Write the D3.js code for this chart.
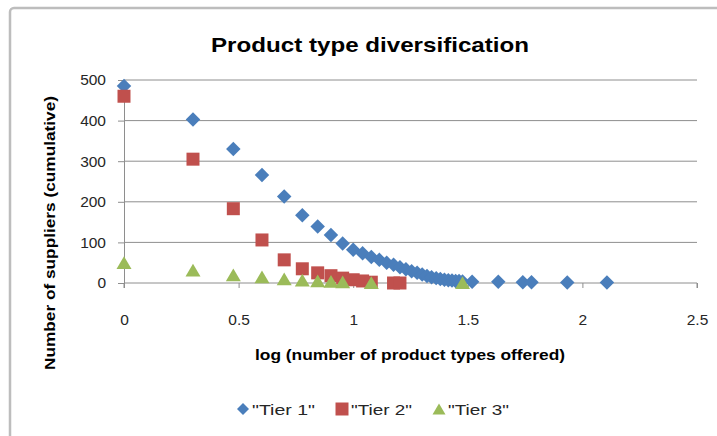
<!DOCTYPE html>
<html>
<head>
<meta charset="utf-8">
<script src="https://cdn.jsdelivr.net/npm/d3@7/dist/d3.min.js"></script>
<style>
  html, body { margin: 0; padding: 0; background: #fff; }
  svg { display: block; }
</style>
</head>
<body>
<svg id="chart" width="717" height="436"></svg>
<script>
// ---- data ----
const chartTitle = "Product type diversification";
const xTitle = "log (number of product types offered)";
const yTitle = "Number of suppliers (cumulative)";
const seriesNames = ['"Tier 1"', '"Tier 2"', '"Tier 3"'];
const xTicks = [0, 0.5, 1, 1.5, 2, 2.5];
const xTickLabels = ["0", "0.5", "1", "1.5", "2", "2.5"];
const yTicks = [0, 100, 200, 300, 400, 500];

const tier1X = [0, 0.301, 0.477, 0.602, 0.699, 0.778, 0.845, 0.903, 0.954, 1.0,
  1.041, 1.079, 1.114, 1.146, 1.176, 1.204, 1.230, 1.255, 1.279, 1.301,
  1.322, 1.342, 1.362, 1.380, 1.398, 1.415, 1.431, 1.447, 1.462, 1.477,
  1.519, 1.633, 1.740, 1.778, 1.934, 2.107];
const tier1Y = [485, 403, 330, 266, 213, 167, 139, 118, 97, 82,
  73, 64, 57, 50, 45, 39, 34, 29, 25, 21,
  17, 14, 12, 10, 8, 7, 6, 5, 5, 4,
  3, 3, 2, 2, 1, 1];

const tier2X = [0, 0.301, 0.477, 0.602, 0.699, 0.778, 0.845, 0.903, 0.954, 1.0, 1.041, 1.079, 1.176, 1.204];
const tier2Y = [460, 305, 183, 106, 57, 35, 25, 18, 12, 8, 5, 2, 0, 0];

const tier3X = [0, 0.301, 0.477, 0.602, 0.699, 0.778, 0.845, 0.903, 0.954, 1.079, 1.477];
const tier3Y = [50, 32, 20, 15, 10, 7, 5, 4, 3, 1, 1];

const colors = ["#4A7EBB", "#C0504D", "#9BBB59"];

// ---- layout ----
const svg = d3.select("#chart");
const plot = { left: 124, right: 697, top: 80, bottom: 283 };
const x = d3.scaleLinear().domain([0, 2.5]).range([plot.left, plot.right]);
const y = d3.scaleLinear().domain([0, 500]).range([plot.bottom, plot.top]);
const font = "'Liberation Sans', Arial, sans-serif";

// chart border (right/bottom cropped off in reference)
svg.append("rect").attr("x", 10).attr("y", 8).attr("width", 760).attr("height", 480)
  .attr("rx", 4).attr("fill", "#fff").attr("stroke", "#bdbdbd").attr("stroke-width", 2.5);

// title
svg.append("text").attr("x", 370).attr("y", 52).attr("text-anchor", "middle")
  .attr("font-family", font).attr("font-weight", "bold").attr("font-size", 21)
  .attr("fill", "#000").attr("textLength", 318).attr("lengthAdjust", "spacingAndGlyphs")
  .text(chartTitle);

// gridlines
svg.append("g").selectAll("line").data(yTicks.filter(d => d > 0)).join("line")
  .attr("x1", plot.left).attr("x2", plot.right)
  .attr("y1", d => y(d)).attr("y2", d => y(d))
  .attr("stroke", "#8e8e8e").attr("stroke-width", 1);

// y axis
const yAxis = svg.append("g").attr("transform", `translate(${plot.left},0)`)
  .call(d3.axisLeft(y).tickValues(yTicks).tickSize(6).tickPadding(12).tickFormat(d3.format("d")));
yAxis.select(".domain").attr("stroke", "#8e8e8e");
yAxis.selectAll(".tick line").attr("stroke", "#8e8e8e");
yAxis.selectAll("text").attr("font-family", font).attr("font-size", 15.5).attr("fill", "#262626");

// x axis
const xAxis = svg.append("g").attr("transform", `translate(0,${plot.bottom})`)
  .call(d3.axisBottom(x).tickValues(xTicks).tickSize(5).tickPadding(26)
    .tickFormat((d, i) => xTickLabels[i]));
xAxis.select(".domain").attr("stroke", "#8e8e8e").attr("d", `M${plot.left},5V0H${plot.right}V5`);
xAxis.selectAll(".tick line").attr("stroke", "#8e8e8e");
xAxis.selectAll("text").attr("font-family", font).attr("font-size", 15.5).attr("fill", "#262626");

// axis titles
svg.append("text").attr("x", 410).attr("y", 360).attr("text-anchor", "middle")
  .attr("font-family", font).attr("font-weight", "bold").attr("font-size", 14.5)
  .attr("fill", "#000").attr("textLength", 310).attr("lengthAdjust", "spacingAndGlyphs")
  .text(xTitle);
svg.append("text").attr("transform", "translate(55,233) rotate(-90)").attr("text-anchor", "middle")
  .attr("font-family", font).attr("font-weight", "bold").attr("font-size", 14.5)
  .attr("fill", "#000").attr("textLength", 274).attr("lengthAdjust", "spacingAndGlyphs")
  .text(yTitle);

// marker shapes
const diamond = { draw(ctx, size) { const r = Math.sqrt(size) / 2; ctx.moveTo(0, -r); ctx.lineTo(r, 0); ctx.lineTo(0, r); ctx.lineTo(-r, 0); ctx.closePath(); } };
const square = { draw(ctx, size) { const r = Math.sqrt(size) / 2; ctx.rect(-r, -r, 2 * r, 2 * r); } };
const triangle = { draw(ctx, size) { const r = Math.sqrt(size) / 2; ctx.moveTo(0, -r * 0.85); ctx.lineTo(r, r * 0.85); ctx.lineTo(-r, r * 0.85); ctx.closePath(); } };
const shapes = [diamond, square, triangle];
const sizes = [210, 169, 225];

const series = [
  { xs: tier1X, ys: tier1Y },
  { xs: tier2X, ys: tier2Y },
  { xs: tier3X, ys: tier3Y }
];

series.forEach((s, i) => {
  const pts = s.xs.map((v, j) => [v, s.ys[j]]);
  svg.append("g").selectAll("path").data(pts).join("path")
    .attr("transform", d => `translate(${x(d[0])},${y(d[1])})`)
    .attr("d", d3.symbol().type(shapes[i]).size(sizes[i]))
    .attr("fill", colors[i]);
});

// legend
const legendX = [243, 342, 439];
const legendTextW = [63, 61, 61];
const legendY = 409;
seriesNames.forEach((name, i) => {
  svg.append("path").attr("transform", `translate(${legendX[i]},${legendY})`)
    .attr("d", d3.symbol().type(shapes[i]).size([144, 169, 169][i])).attr("fill", colors[i]);
  svg.append("text").attr("x", legendX[i] + 9).attr("y", legendY + 5.5)
    .attr("font-family", font).attr("font-size", 15).attr("fill", "#262626")
    .attr("textLength", legendTextW[i]).attr("lengthAdjust", "spacingAndGlyphs").text(name);
});
</script>
</body>
</html>
